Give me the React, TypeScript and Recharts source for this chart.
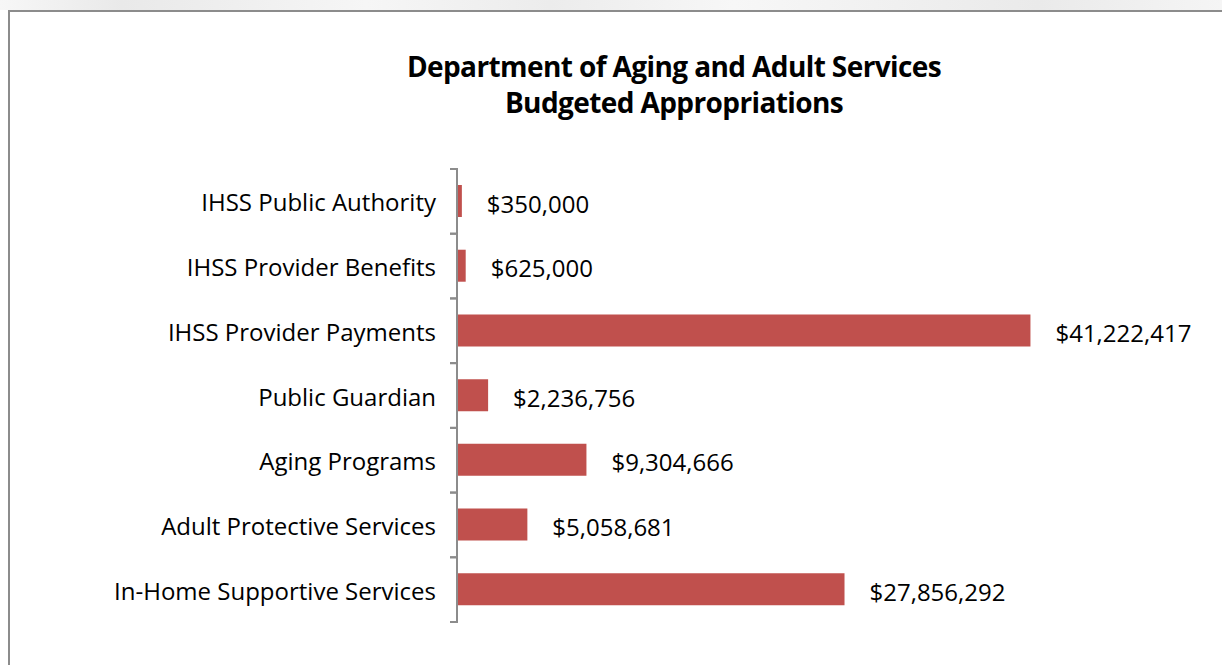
import { BarChart, Bar, XAxis, YAxis, LabelList } from 'recharts';

const categories = [
  'IHSS Public Authority',
  'IHSS Provider Benefits',
  'IHSS Provider Payments',
  'Public Guardian',
  'Aging Programs',
  'Adult Protective Services',
  'In-Home Supportive Services',
];
const amounts = [350000, 625000, 41222417, 2236756, 9304666, 5058681, 27856292];
const titleLines = ['Department of Aging and Adult Services', 'Budgeted Appropriations'];

const data = categories.map((name, i) => ({ name, amount: amounts[i] }));

const FONT = '"Open Sans", sans-serif';
const TOP = 169;
const BOTTOM = 622;
const BAND = (BOTTOM - TOP) / categories.length;

const fmt = (v: number) => '$' + v.toLocaleString('en-US');

const CategoryTick = (props: any) => {
  const { x, y, payload } = props;
  return (
    <g>
      <line x1={x + 1} x2={x + 9} y1={y - BAND / 2} y2={y - BAND / 2} stroke="#8c8c8c" strokeWidth={2} />
      <line x1={x + 1} x2={x + 9} y1={y + BAND / 2} y2={y + BAND / 2} stroke="#8c8c8c" strokeWidth={2} />
      <text x={x - 13} y={y} dy={10} textAnchor="end" fontSize={24} fill="#000" fontFamily={FONT}>
        {payload.value}
      </text>
    </g>
  );
};

export default function App() {
  return (
    <div style={{ position: 'absolute', left: 0, top: 0, width: 1222, height: 665, overflow: 'hidden', background: '#fff' }}>
      <div style={{ position: 'absolute', left: 0, top: 0, width: 1222, height: 10, background: 'linear-gradient(90deg, #f7f7f7, #e9e9e9 10%, #f6f6f6 30%, #ececec 45%, #f7f7f7 60%, #eaeaea 85%, #f5f5f5)' }} />
      <div style={{ position: 'absolute', left: 8, top: 10, width: 1300, height: 700, border: '2px solid #8c8c8c', boxSizing: 'border-box' }} />
      <div style={{ position: 'absolute', left: 374, top: 48, width: 600, textAlign: 'center', fontFamily: FONT, fontWeight: 700, fontSize: 28, lineHeight: '36px', letterSpacing: -0.6, color: '#000' }}>
        {titleLines.map((t) => (
          <div key={t}>{t}</div>
        ))}
      </div>
      <div style={{ position: 'absolute', left: 0, top: 0 }}>
        <BarChart
          width={1222}
          height={665}
          data={data}
          layout="vertical"
          margin={{ top: TOP, bottom: 665 - BOTTOM, left: 0, right: 139 }}
          barSize={32}
        >
          <XAxis type="number" domain={[0, 45000000]} hide />
          <YAxis
            type="category"
            dataKey="name"
            width={457}
            axisLine={{ stroke: '#8c8c8c', strokeWidth: 2 }}
            tickLine={false}
            tick={<CategoryTick />}
            interval={0}
          />
          <Bar dataKey="amount" fill="#C0504D" isAnimationActive={false}>
            <LabelList
              dataKey="amount"
              position="right"
              offset={25}
              dy={3}
              formatter={(v: any) => fmt(Number(v))}
              style={{ fontSize: 24, fontFamily: FONT, fill: '#000' }}
            />
          </Bar>
        </BarChart>
      </div>
    </div>
  );
}
